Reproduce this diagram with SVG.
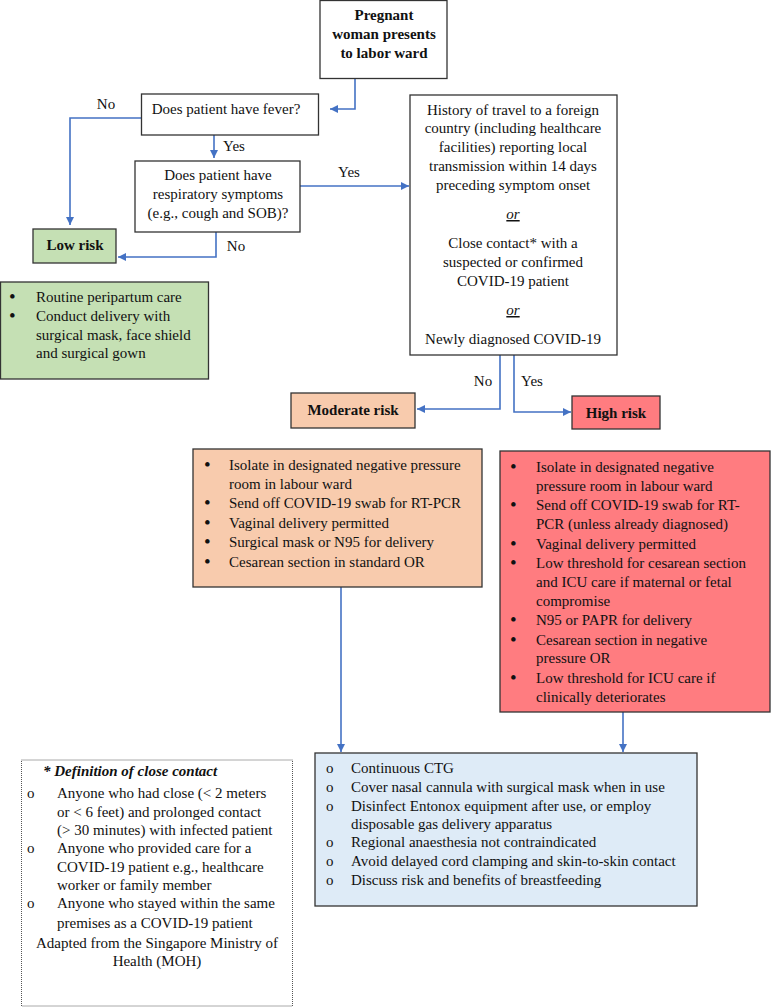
<svg xmlns="http://www.w3.org/2000/svg" width="771" height="1008" viewBox="0 0 771 1008">
<style>
text{font-family:"Liberation Serif","Times New Roman",serif;font-size:15px;fill:#111}
.b{font-weight:bold}
.c{text-anchor:middle}
.bu{font-size:19px}
.box{stroke:#333;stroke-width:1.3}
.con{fill:none;stroke:#4472c4;stroke-width:1.6}
</style>
<defs>
<marker id="ar" markerUnits="userSpaceOnUse" markerWidth="9" markerHeight="9" refX="8" refY="4" orient="auto">
<path d="M0,0 L8,4 L0,8 z" fill="#4472c4"/>
</marker>
</defs>
<rect width="771" height="1008" fill="#fff"/>

<g id="connectors">
<path class="con" d="M355,78 V109 H330" marker-end="url(#ar)"/>
<path class="con" d="M142,118 H70 V225" marker-end="url(#ar)"/>
<path class="con" d="M214,135 V158" marker-end="url(#ar)"/>
<path class="con" d="M216,232 V257 H118" marker-end="url(#ar)"/>
<path class="con" d="M300,186 H409" marker-end="url(#ar)"/>
<path class="con" d="M500,355 V409 H417" marker-end="url(#ar)"/>
<path class="con" d="M514,355 V412 H571" marker-end="url(#ar)"/>
<path class="con" d="M341,587 V752" marker-end="url(#ar)"/>
<path class="con" d="M623,712 V752" marker-end="url(#ar)"/>
<text x="106" y="109" class="c">No</text>
<text x="234" y="151" class="c">Yes</text>
<text x="236" y="251" class="c">No</text>
<text x="349" y="177" class="c">Yes</text>
<text x="483" y="386" class="c">No</text>
<text x="532" y="386" class="c">Yes</text>
</g>

<g id="start">
<rect class="box" x="320" y="0.5" width="127" height="78" fill="#fff"/>
<text x="384" y="20" class="b c">Pregnant</text>
<text x="384" y="39" class="b c">woman presents</text>
<text x="384" y="58" class="b c">to labor ward</text>
</g>

<g id="fever">
<rect class="box" x="141.5" y="94" width="177" height="41" fill="#fff"/>
<text x="226" y="114" class="c">Does patient have fever?</text>
</g>

<g id="respiratory">
<rect class="box" x="135" y="161" width="165" height="71" fill="#fff"/>
<text x="218" y="180" class="c">Does patient have</text>
<text x="218" y="199" class="c">respiratory symptoms</text>
<text x="218" y="218" class="c">(e.g., cough and SOB)?</text>
</g>

<g id="low-risk">
<rect class="box" x="33" y="229" width="83" height="34" fill="#c5e0b4"/>
<text x="75" y="250" class="b c">Low risk</text>
</g>

<g id="low-details">
<rect class="box" x="0.5" y="282" width="208" height="97" fill="#c5e0b4"/>
<text x="9" y="303" class="bu">•</text><text x="36" y="302">Routine peripartum care</text>
<text x="9" y="322" class="bu">•</text><text x="36" y="321">Conduct delivery with</text>
<text x="36" y="340">surgical mask, face shield</text>
<text x="36" y="358">and surgical gown</text>
</g>

<g id="travel">
<rect class="box" x="410" y="95" width="207" height="260" fill="#fff"/>
<text x="513" y="115" class="c">History of travel to a foreign</text>
<text x="513" y="133" class="c">country (including healthcare</text>
<text x="513" y="152" class="c">facilities) reporting local</text>
<text x="513" y="171" class="c">transmission within 14 days</text>
<text x="513" y="190" class="c">preceding symptom onset</text>
<text x="513" y="219" class="c" font-style="italic" text-decoration="underline">or</text>
<text x="513" y="248" class="c">Close contact* with a</text>
<text x="513" y="267" class="c">suspected or confirmed</text>
<text x="513" y="286" class="c">COVID-19 patient</text>
<text x="513" y="315" class="c" font-style="italic" text-decoration="underline">or</text>
<text x="513" y="344" class="c">Newly diagnosed COVID-19</text>
</g>

<g id="moderate-risk">
<rect class="box" x="291" y="393" width="124" height="35" fill="#f8cbad"/>
<text x="353" y="415" class="b c">Moderate risk</text>
</g>

<g id="high-risk">
<rect class="box" x="572" y="396" width="88" height="33" fill="#ff7c80"/>
<text x="616" y="418" class="b c">High risk</text>
</g>

<g id="moderate-details">
<rect class="box" x="193" y="449" width="289" height="138" fill="#f8cbad"/>
<text x="204" y="471" class="bu">•</text><text x="229" y="470">Isolate in designated negative pressure</text>
<text x="229" y="489">room in labour ward</text>
<text x="204" y="509" class="bu">•</text><text x="229" y="508">Send off COVID-19 swab for RT-PCR</text>
<text x="204" y="529" class="bu">•</text><text x="229" y="528">Vaginal delivery permitted</text>
<text x="204" y="548" class="bu">•</text><text x="229" y="547">Surgical mask or N95 for delivery</text>
<text x="204" y="568" class="bu">•</text><text x="229" y="567">Cesarean section in standard OR</text>
</g>

<g id="high-details">
<rect class="box" x="500" y="451" width="270" height="261" fill="#ff7c80"/>
<text x="510" y="473" class="bu">•</text><text x="536" y="472">Isolate in designated negative</text>
<text x="536" y="491">pressure room in labour ward</text>
<text x="510" y="511" class="bu">•</text><text x="536" y="510">Send off COVID-19 swab for RT-</text>
<text x="536" y="529">PCR (unless already diagnosed)</text>
<text x="510" y="550" class="bu">•</text><text x="536" y="549">Vaginal delivery permitted</text>
<text x="510" y="569" class="bu">•</text><text x="536" y="568">Low threshold for cesarean section</text>
<text x="536" y="587">and ICU care if maternal or fetal</text>
<text x="536" y="606">compromise</text>
<text x="510" y="626" class="bu">•</text><text x="536" y="625">N95 or PAPR for delivery</text>
<text x="510" y="646" class="bu">•</text><text x="536" y="645">Cesarean section in negative</text>
<text x="536" y="663">pressure OR</text>
<text x="510" y="684" class="bu">•</text><text x="536" y="683">Low threshold for ICU care if</text>
<text x="536" y="702">clinically deteriorates</text>
</g>

<g id="general-care">
<rect class="box" x="315" y="753" width="382" height="153" fill="#deebf7"/>
<text x="326" y="773">o</text><text x="351" y="773">Continuous CTG</text>
<text x="326" y="792">o</text><text x="351" y="792">Cover nasal cannula with surgical mask when in use</text>
<text x="326" y="811">o</text><text x="351" y="811">Disinfect Entonox equipment after use, or employ</text>
<text x="351" y="829">disposable gas delivery apparatus</text>
<text x="326" y="847">o</text><text x="351" y="847">Regional anaesthesia not contraindicated</text>
<text x="326" y="866">o</text><text x="351" y="866">Avoid delayed cord clamping and skin-to-skin contact</text>
<text x="326" y="885">o</text><text x="351" y="885">Discuss risk and benefits of breastfeeding</text>
</g>

<g id="definition">
<rect x="21.5" y="760" width="271" height="246" fill="#fff" stroke="#555" stroke-width="1" stroke-dasharray="1,1"/>
<text x="43" y="776" class="b" font-style="italic">* Definition of close contact</text>
<text x="27" y="798">o</text><text x="57" y="798">Anyone who had close (&lt; 2 meters</text>
<text x="57" y="817">or &lt; 6 feet) and prolonged contact</text>
<text x="57" y="835">(&gt; 30 minutes) with infected patient</text>
<text x="27" y="853">o</text><text x="57" y="853">Anyone who provided care for a</text>
<text x="57" y="872">COVID-19 patient e.g., healthcare</text>
<text x="57" y="890">worker or family member</text>
<text x="27" y="908">o</text><text x="57" y="908">Anyone who stayed within the same</text>
<text x="57" y="928">premises as a COVID-19 patient</text>
<text x="157" y="948" class="c">Adapted from the Singapore Ministry of</text>
<text x="157" y="966" class="c">Health (MOH)</text>
</g>
</svg>
